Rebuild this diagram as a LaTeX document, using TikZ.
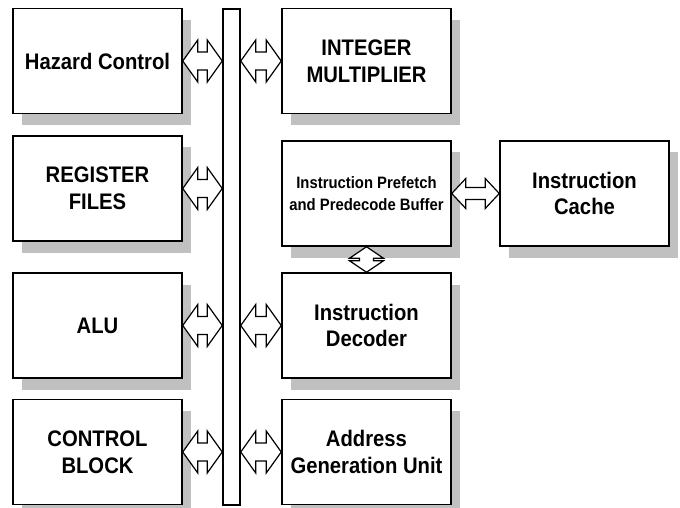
\documentclass[tikz,border=0pt]{standalone}
\usepackage{fontspec}
\setmainfont[FakeStretch=0.9]{Liberation Sans}
\usetikzlibrary{calc,shadows,positioning}
\definecolor{shadowgray}{RGB}{192,192,192}
\tikzset{
  block/.style={draw, fill=white, line width=1.5pt, minimum width=169pt, minimum height=105pt,
    inner sep=0pt, align=center, font=\fontsize{22.5}{26.7}\selectfont\bfseries,
    drop shadow={shadow xshift=8.5pt, shadow yshift=-11.5pt, fill=shadowgray, opacity=1}},
  harrow/.style n args={3}{draw, fill=white, line width=1.2pt,
    to path={(\tikztostart) -- ++(#1,-#2) -- ++(0,#2-#3) -- ($(\tikztotarget)+(-#1,-#3)$)
      -- ++(0,-#2+#3) -- (\tikztotarget) -- ++(-#1,#2) -- ++(0,-#2+#3)
      -- ($(\tikztostart)+(#1,#3)$) -- ++(0,#2-#3) -- cycle}},
  varrow/.style n args={3}{draw, fill=white, line width=1.2pt,
    to path={(\tikztostart) -- ++(-#2,#1) -- ++(#2-#3,0) -- ($(\tikztotarget)+(-#3,-#1)$)
      -- ++(-#2+#3,0) -- (\tikztotarget) -- ++(#2,-#1) -- ++(-#2+#3,0)
      -- ($(\tikztostart)+(#3,#1)$) -- ++(#2-#3,0) -- cycle}}
}

\begin{document}
\begin{tikzpicture}[x=1pt, y=-1pt, node distance=269pt]
  \useasboundingbox (0,0) rectangle (680,508);
  \node[block] (hazard) at (97.5,61) {Hazard Control};
  \node[block] (regfile) at (97.5,188.5) {REGISTER\\FILES};
  \node[block] (alu) at (97.5,325.5) {ALU};
  \node[block] (ctrl) at (97.5,452) {CONTROL\\BLOCK};
  \node[draw, line width=1.5pt, minimum width=17pt, minimum height=496pt, inner sep=0pt] (bus) at (231.5,257) {};

  \node[block, right of=hazard] (mult) {INTEGER\\MULTIPLIER};
  \node[block, font=\fontsize{16.5}{21.7}\selectfont\bfseries] (prefetch) at (366.5,193.5) {Instruction Prefetch\\and Predecode Buffer};
  \node[block, right of=alu] (decoder) {Instruction\\Decoder};
  \node[block, right of=ctrl] (agu) {Address\\Generation Unit};
  \node[block, right of=prefetch, node distance=218pt] (cache) {Instruction\\Cache};

  \draw[harrow={15}{21}{9}] (hazard.east) to (hazard.east -| bus.west);
  \draw[harrow={15}{21}{9}] (regfile.east) to (regfile.east -| bus.west);
  \draw[harrow={15}{21}{9}] (alu.east) to (alu.east -| bus.west);
  \draw[harrow={15}{21}{9}] (ctrl.east) to (ctrl.east -| bus.west);
  \draw[harrow={15}{21}{9}] (mult.west -| bus.east) to (mult.west);
  \draw[harrow={15}{21}{9}] (decoder.west -| bus.east) to (decoder.west);
  \draw[harrow={15}{21}{9}] (agu.west -| bus.east) to (agu.west);
  \draw[harrow={14}{15}{6}] (prefetch.east) to (cache.west);
  \draw[varrow={11.5}{17}{7}] (prefetch.south) to (decoder.north);
\end{tikzpicture}
\end{document}
